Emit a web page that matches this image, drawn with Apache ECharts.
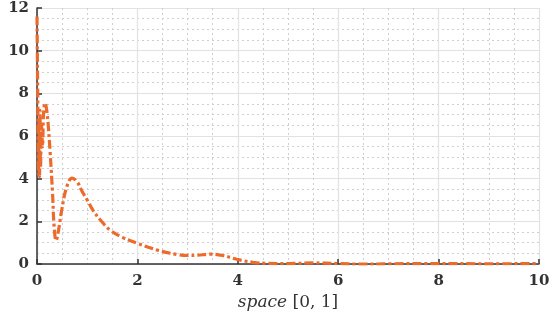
<!DOCTYPE html>
<html>
<head>
<meta charset="utf-8">
<script src="https://cdn.jsdelivr.net/npm/echarts@6/dist/echarts.min.js"></script>
<style>
  html, body { margin: 0; padding: 0; background: #fff; }
  #main { width: 560px; height: 322px; }
</style>
</head>
<body>
<div id="main"></div>
<script>
// curve
var xs = [0, 0.01, 0.02, 0.03, 0.04, 0.05, 0.06, 0.07, 0.09, 0.11, 0.13, 0.16, 0.2, 0.23, 0.26, 0.31, 0.34, 0.38,
  0.43, 0.49, 0.59, 0.7, 0.8, 0.9, 1.0, 1.12, 1.25, 1.45, 1.7, 2.0, 2.4, 2.78, 3.0, 3.2, 3.45, 3.7,
  3.98, 4.3, 4.6, 5.0, 5.5, 6.0, 6.5, 7.0, 8.0, 9.0, 10.0];
var ys = [11.6, 9.0, 6.5, 4.2, 6.8, 4.1, 7.2, 4.5, 6.5, 5.5, 7.0, 7.55, 7.1, 6.3, 5.3, 3.3, 1.8, 1.1,
  1.6, 2.5, 3.6, 4.03, 3.85, 3.4, 3.0, 2.5, 2.1, 1.6, 1.25, 0.97, 0.65, 0.45, 0.4, 0.41, 0.46, 0.4,
  0.22, 0.08, 0.03, 0.02, 0.05, 0.02, -0.01, 0.01, 0.02, 0.01, 0.02];
var xTicks = [0, 2, 4, 6, 8, 10];
var yTicks = [0, 2, 4, 6, 8, 10, 12];

var chart = echarts.init(document.getElementById('main'), null, { renderer: 'canvas' });

var pts = [];
for (var i = 0; i < xs.length; i++) {
  pts.push([xs[i], ys[i]]);
}

var labelFont = {
  color: '#333',
  fontFamily: 'DejaVu Serif',
  fontWeight: 'bold',
  fontSize: 15
};

var option = {
  backgroundColor: '#fff',
  animation: false,
  grid: { left: 37, right: 21, top: 8, bottom: 58 },
  xAxis: {
    type: 'value',
    min: xTicks[0],
    max: xTicks[xTicks.length - 1],
    interval: 2,
    name: '{i|space} [0, 1]',
    nameLocation: 'middle',
    nameGap: 30,
    nameTextStyle: {
      color: '#333',
      fontFamily: 'DejaVu Serif',
      fontSize: 17,
      rich: {
        i: { fontStyle: 'italic', fontFamily: 'DejaVu Serif', fontSize: 17, color: '#333' }
      }
    },
    axisLine: { show: true, onZero: false, lineStyle: { color: '#333', width: 1.5 } },
    axisTick: { show: true, inside: true, length: 5, lineStyle: { color: '#333', width: 1.5 } },
    axisLabel: Object.assign({ margin: 10 }, labelFont),
    splitLine: { show: true, lineStyle: { color: '#e2e2e2', width: 1.2 } },
    minorTick: { show: false, splitNumber: 4 },
    minorSplitLine: { show: true, lineStyle: { color: '#cfcfcf', type: [2, 3], width: 1 } }
  },
  yAxis: {
    type: 'value',
    min: yTicks[0],
    max: yTicks[yTicks.length - 1],
    interval: 2,
    axisLine: { show: true, onZero: false, lineStyle: { color: '#333', width: 1.5 } },
    axisTick: { show: true, inside: true, length: 5, lineStyle: { color: '#333', width: 1.5 } },
    axisLabel: Object.assign({ margin: 8 }, labelFont),
    splitLine: { show: true, lineStyle: { color: '#e2e2e2', width: 1.2 } },
    minorTick: { show: false, splitNumber: 4 },
    minorSplitLine: { show: true, lineStyle: { color: '#cfcfcf', type: [2, 3], width: 1 } }
  },
  series: [{
    type: 'line',
    data: pts,
    smooth: 0.4,
    showSymbol: false,
    clip: true,
    lineStyle: { color: '#EC6A2C', width: 3.2, type: [9, 3, 3, 3] }
  }]
};

chart.setOption(option);
</script>
</body>
</html>
